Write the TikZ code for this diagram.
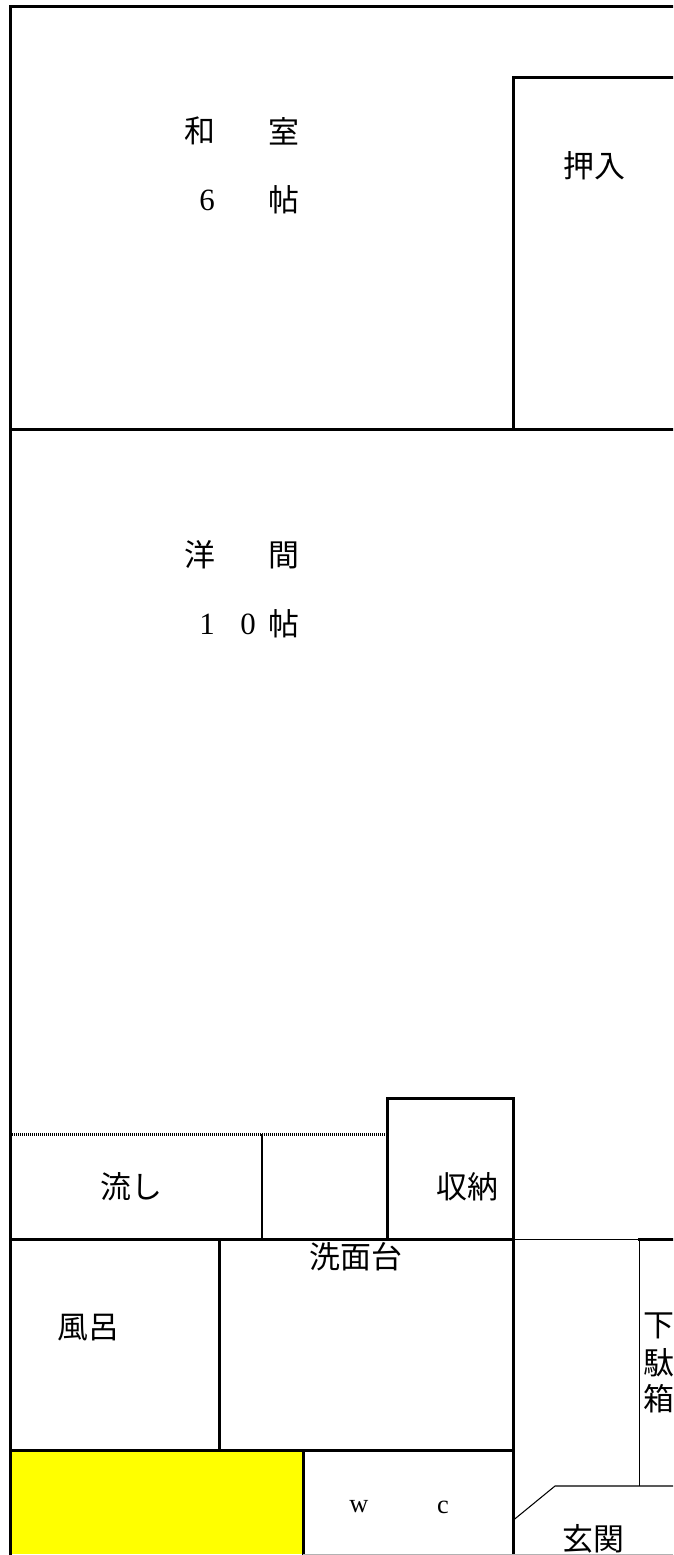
\documentclass[tikz,border=0pt]{standalone}
\usepackage{fontspec}
\usepackage{tikz}
\newfontfamily\jpfont{Noto Sans CJK JP}
\newfontfamily\latinfont{Liberation Serif}
\definecolor{roomyellow}{RGB}{255,255,0}
\tikzset{
         wall/.style={line width=1.85pt,line cap=rect},
         thinwall/.style={line width=0.6pt},
         jptext/.style={inner sep=0pt,font=\fontsize{17.6}{20}\selectfont\jpfont},
         latintext/.style={inner sep=0pt,font=\fontsize{17.6}{20}\selectfont\latinfont},
         smalltext/.style={inner sep=0pt,font=\fontsize{15}{16}\selectfont\latinfont}
        }
\begin{document}
\begin{tikzpicture}[x=0.02cm,y=-0.02cm]
\clip (0,0) rectangle (673,1555);
\fill[roomyellow] (11,1450) rectangle (303,1554); %toilet side room

\draw[wall] (673,6.5)--(10.5,6.5)--(10.5,1555); %outer wall
\draw[wall] (673,77.5)--(513.5,77.5)--(513.5,429.5); %closet
\draw[wall] (10.5,429.5)--(673,429.5); %middle wall
\draw[wall] (387.5,1239.5)--(387.5,1098.5)--(513.5,1098.5)--(513.5,1555); %storage and hall side
\draw[wall] (10.5,1239.5)--(513.5,1239.5);
\draw[wall] (639.5,1239.5)--(673,1239.5);
\draw[wall] (219.5,1239.5)--(219.5,1450.5);
\draw[wall] (10.5,1450.5)--(513.5,1450.5);
\draw[wall] (303.5,1450.5)--(303.5,1555);

\draw[line width=1.7pt,dash pattern=on 0.02cm off 0.02cm] (12,1134)--(386,1134); %dotted counter
\draw[thinwall] (262,1134)--(262,1239.5);
\draw[thinwall] (513.5,1239.5)--(639.5,1239.5)--(639.5,1486);
\draw[thinwall] (513.5,1520)--(555,1486)--(673,1486); %entrance step
\draw[line width=0.5pt,black!30] (303,1554.5)--(673,1554.5);

\node[jptext] (washitsua) at (200,131){和};
\node[jptext] (washitsub) at (284,131){室};
\node[latintext] (rokua) at (207,200){6};
\node[jptext] (rokub) at (284,199.5){帖};
\node[jptext] (oshiire) at (594,165.5){押入};
\node[jptext] (yoa) at (200,555){洋};
\node[jptext] (yob) at (284,555){間};
\node[latintext] (juua) at (207,624){1};
\node[latintext] (juub) at (248,624){0};
\node[jptext] (juuc) at (284,624){帖};
\node[jptext] (nagashi) at (131,1187){流し};
\node[jptext] (shuno) at (467,1187){収納};
\node[jptext] (senmen) at (356,1257){洗面台};
\node[jptext] (furo) at (88,1327.5){風呂};
\node[jptext] (getaa) at (659,1326){下};
\node[jptext] (getab) at (659,1363){駄};
\node[jptext] (getac) at (659,1399){箱};
\node[jptext] (genkan) at (593,1538.5){玄関};
\node[smalltext] (wca) at (359,1507){w};
\node[smalltext] (wcb) at (443,1507){c};
\end{tikzpicture}
\end{document}
